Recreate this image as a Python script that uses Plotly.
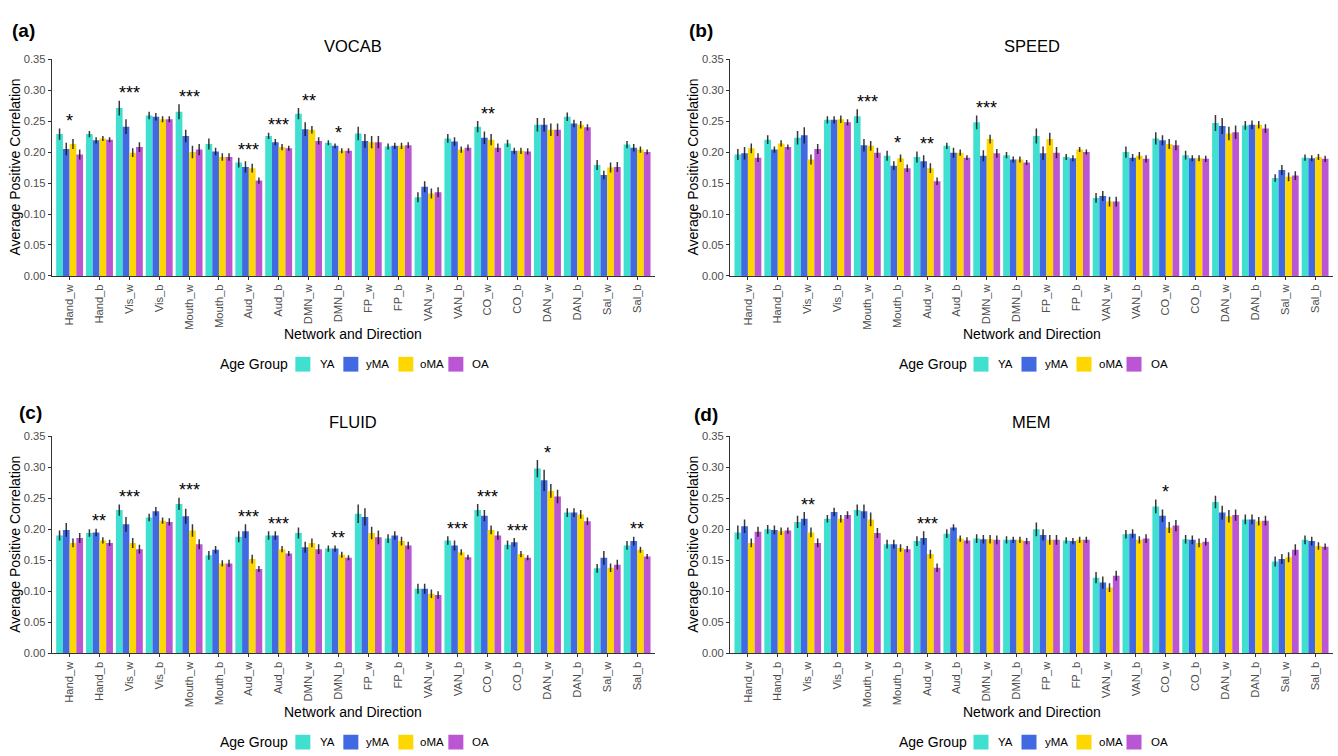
import plotly.graph_objects as go

# ---------------- data ----------------
categories = ["Hand_w", "Hand_b", "Vis_w", "Vis_b", "Mouth_w", "Mouth_b", "Aud_w", "Aud_b",
              "DMN_w", "DMN_b", "FP_w", "FP_b", "VAN_w", "VAN_b", "CO_w", "CO_b",
              "DAN_w", "DAN_b", "Sal_w", "Sal_b"]
groups = ["YA", "yMA", "oMA", "OA"]
panel_titles = ["VOCAB", "SPEED", "FLUID", "MEM"]
panel_tags = ["(a)", "(b)", "(c)", "(d)"]
y_ticks = [0.00, 0.05, 0.10, 0.15, 0.20, 0.25, 0.30, 0.35]

# VOCAB
vocab_YA = [0.229, 0.229, 0.271, 0.259, 0.265, 0.213, 0.183, 0.226, 0.262, 0.215, 0.230, 0.209, 0.127, 0.222, 0.241, 0.214, 0.244, 0.257, 0.179, 0.212]
vocab_yMA = [0.205, 0.219, 0.241, 0.257, 0.226, 0.201, 0.176, 0.216, 0.237, 0.210, 0.218, 0.210, 0.144, 0.217, 0.223, 0.202, 0.244, 0.246, 0.163, 0.207]
vocab_oMA = [0.213, 0.222, 0.199, 0.253, 0.200, 0.192, 0.174, 0.208, 0.236, 0.202, 0.216, 0.210, 0.133, 0.204, 0.220, 0.202, 0.236, 0.244, 0.175, 0.204]
vocab_OA = [0.196, 0.220, 0.208, 0.253, 0.204, 0.192, 0.154, 0.206, 0.218, 0.202, 0.216, 0.211, 0.135, 0.207, 0.207, 0.201, 0.236, 0.240, 0.176, 0.200]
vocab_YA_se = [0.009, 0.005, 0.012, 0.006, 0.012, 0.009, 0.008, 0.005, 0.009, 0.004, 0.011, 0.005, 0.008, 0.007, 0.009, 0.006, 0.011, 0.007, 0.008, 0.006]
vocab_yMA_se = [0.010, 0.005, 0.012, 0.006, 0.010, 0.006, 0.009, 0.005, 0.011, 0.004, 0.011, 0.005, 0.009, 0.007, 0.010, 0.005, 0.011, 0.006, 0.007, 0.006]
vocab_oMA_se = [0.008, 0.004, 0.007, 0.005, 0.010, 0.006, 0.007, 0.005, 0.006, 0.004, 0.010, 0.005, 0.008, 0.005, 0.009, 0.005, 0.010, 0.006, 0.008, 0.005]
vocab_OA_se = [0.008, 0.004, 0.008, 0.005, 0.009, 0.006, 0.005, 0.004, 0.006, 0.004, 0.010, 0.005, 0.008, 0.005, 0.007, 0.005, 0.010, 0.005, 0.008, 0.004]
vocab_sig = ["*", "", "***", "", "***", "", "***", "***", "**", "*", "", "", "", "", "**", "", "", "", "", ""]

# SPEED
speed_YA = [0.196, 0.220, 0.223, 0.252, 0.258, 0.194, 0.192, 0.210, 0.248, 0.195, 0.226, 0.192, 0.126, 0.200, 0.222, 0.195, 0.247, 0.243, 0.158, 0.191]
speed_yMA = [0.198, 0.204, 0.227, 0.252, 0.211, 0.178, 0.185, 0.199, 0.194, 0.188, 0.198, 0.190, 0.129, 0.191, 0.219, 0.190, 0.242, 0.244, 0.171, 0.190]
speed_oMA = [0.206, 0.214, 0.188, 0.253, 0.210, 0.190, 0.174, 0.199, 0.221, 0.188, 0.221, 0.204, 0.120, 0.194, 0.213, 0.190, 0.230, 0.244, 0.160, 0.192]
speed_OA = [0.191, 0.208, 0.205, 0.248, 0.199, 0.174, 0.153, 0.191, 0.198, 0.183, 0.199, 0.200, 0.120, 0.189, 0.211, 0.189, 0.232, 0.238, 0.162, 0.189]
speed_YA_se = [0.009, 0.007, 0.011, 0.006, 0.011, 0.008, 0.009, 0.005, 0.011, 0.005, 0.012, 0.005, 0.008, 0.009, 0.010, 0.007, 0.013, 0.007, 0.006, 0.005]
speed_yMA_se = [0.010, 0.005, 0.013, 0.006, 0.010, 0.007, 0.010, 0.008, 0.009, 0.005, 0.011, 0.005, 0.008, 0.006, 0.008, 0.005, 0.013, 0.007, 0.008, 0.005]
speed_oMA_se = [0.008, 0.005, 0.008, 0.006, 0.008, 0.006, 0.008, 0.005, 0.007, 0.005, 0.010, 0.004, 0.008, 0.006, 0.008, 0.005, 0.011, 0.006, 0.007, 0.005]
speed_OA_se = [0.007, 0.004, 0.008, 0.005, 0.008, 0.006, 0.006, 0.004, 0.007, 0.004, 0.009, 0.004, 0.008, 0.006, 0.008, 0.005, 0.011, 0.007, 0.007, 0.005]
speed_sig = ["", "", "", "", "***", "*", "**", "", "***", "", "", "", "", "", "", "", "", "", "", ""]

# FLUID
fluid_YA = [0.190, 0.194, 0.231, 0.219, 0.241, 0.158, 0.188, 0.190, 0.194, 0.169, 0.225, 0.185, 0.104, 0.182, 0.231, 0.175, 0.298, 0.227, 0.137, 0.174]
fluid_yMA = [0.199, 0.195, 0.208, 0.229, 0.221, 0.167, 0.197, 0.190, 0.171, 0.169, 0.220, 0.190, 0.104, 0.174, 0.222, 0.179, 0.279, 0.227, 0.154, 0.181]
fluid_oMA = [0.178, 0.182, 0.178, 0.214, 0.198, 0.145, 0.152, 0.168, 0.178, 0.159, 0.194, 0.181, 0.096, 0.163, 0.199, 0.160, 0.262, 0.224, 0.138, 0.167]
fluid_OA = [0.186, 0.178, 0.168, 0.212, 0.176, 0.145, 0.136, 0.161, 0.168, 0.154, 0.187, 0.174, 0.094, 0.155, 0.190, 0.154, 0.253, 0.213, 0.143, 0.156]
fluid_YA_se = [0.008, 0.006, 0.009, 0.006, 0.010, 0.007, 0.009, 0.007, 0.009, 0.005, 0.015, 0.007, 0.008, 0.007, 0.010, 0.007, 0.014, 0.007, 0.007, 0.007]
fluid_yMA_se = [0.011, 0.006, 0.012, 0.007, 0.012, 0.006, 0.011, 0.007, 0.009, 0.005, 0.014, 0.007, 0.008, 0.008, 0.009, 0.007, 0.017, 0.007, 0.011, 0.007]
fluid_oMA_se = [0.007, 0.005, 0.008, 0.005, 0.010, 0.005, 0.007, 0.005, 0.007, 0.005, 0.010, 0.007, 0.007, 0.005, 0.007, 0.005, 0.011, 0.007, 0.007, 0.005]
fluid_OA_se = [0.008, 0.005, 0.007, 0.006, 0.008, 0.006, 0.005, 0.004, 0.008, 0.004, 0.011, 0.006, 0.006, 0.004, 0.007, 0.004, 0.011, 0.006, 0.008, 0.004]
fluid_sig = ["", "**", "***", "", "***", "", "***", "***", "", "**", "", "", "", "***", "***", "***", "*", "", "", "**"]

# MEM
mem_YA = [0.195, 0.200, 0.212, 0.217, 0.231, 0.176, 0.181, 0.193, 0.185, 0.183, 0.200, 0.182, 0.122, 0.192, 0.237, 0.184, 0.244, 0.216, 0.148, 0.183]
mem_yMA = [0.205, 0.199, 0.217, 0.228, 0.229, 0.176, 0.186, 0.203, 0.184, 0.183, 0.191, 0.181, 0.114, 0.193, 0.222, 0.183, 0.227, 0.216, 0.152, 0.181]
mem_oMA = [0.178, 0.197, 0.195, 0.217, 0.216, 0.170, 0.160, 0.185, 0.184, 0.183, 0.183, 0.183, 0.106, 0.183, 0.203, 0.178, 0.221, 0.213, 0.155, 0.173]
mem_OA = [0.196, 0.198, 0.178, 0.223, 0.194, 0.168, 0.138, 0.182, 0.183, 0.181, 0.183, 0.183, 0.125, 0.185, 0.206, 0.180, 0.223, 0.214, 0.167, 0.172]
mem_YA_se = [0.011, 0.007, 0.010, 0.006, 0.009, 0.007, 0.008, 0.007, 0.007, 0.006, 0.011, 0.005, 0.009, 0.007, 0.011, 0.007, 0.010, 0.008, 0.008, 0.007]
mem_yMA_se = [0.011, 0.007, 0.011, 0.007, 0.011, 0.007, 0.011, 0.005, 0.007, 0.005, 0.009, 0.005, 0.010, 0.007, 0.010, 0.007, 0.011, 0.008, 0.008, 0.007]
mem_oMA_se = [0.007, 0.006, 0.008, 0.006, 0.011, 0.006, 0.007, 0.005, 0.007, 0.005, 0.008, 0.005, 0.007, 0.006, 0.009, 0.007, 0.010, 0.007, 0.008, 0.006]
mem_OA_se = [0.008, 0.005, 0.007, 0.006, 0.008, 0.005, 0.007, 0.005, 0.007, 0.005, 0.008, 0.005, 0.008, 0.007, 0.009, 0.006, 0.009, 0.008, 0.009, 0.005]
mem_sig = ["", "", "**", "", "", "", "***", "", "", "", "", "", "", "", "*", "", "", "", "", ""]

panel_means = [
    [vocab_YA, vocab_yMA, vocab_oMA, vocab_OA],
    [speed_YA, speed_yMA, speed_oMA, speed_OA],
    [fluid_YA, fluid_yMA, fluid_oMA, fluid_OA],
    [mem_YA, mem_yMA, mem_oMA, mem_OA],
]
panel_ses = [
    [vocab_YA_se, vocab_yMA_se, vocab_oMA_se, vocab_OA_se],
    [speed_YA_se, speed_yMA_se, speed_oMA_se, speed_OA_se],
    [fluid_YA_se, fluid_yMA_se, fluid_oMA_se, fluid_OA_se],
    [mem_YA_se, mem_yMA_se, mem_oMA_se, mem_OA_se],
]
panel_sigs = [vocab_sig, speed_sig, fluid_sig, mem_sig]

# ---------------- styling / layout ----------------
W, H = 1338, 756
FONT = "Liberation Sans, Arial, Helvetica, sans-serif"
COLORS = ["#40E0D0", "#4169E1", "#FFD700", "#BA55D3"]
AXIS_COL = "#333333"
TICK_TXT = "#4D4D4D"


def px(xp):
    return xp / W


def py(yp):
    return 1 - yp / H


# pixel boxes of the plot areas: (left, right, top, bottom)
boxes = [
    (51.7, 655.0, 54.0, 274.3),
    (730.0, 1333.0, 54.0, 274.3),
    (51.7, 655.0, 437.3, 657.7),
    (730.0, 1333.0, 437.3, 657.7),
]
tag_pos = [(10, 25), (687, 25), (17, 413), (692, 415)]
ytitle_x = [15, 693, 15, 693]
title_y = [41, 41, 423, 423]
xtitle_y = [333, 333, 717, 717]
legend_y = [364, 364, 748, 748]

fig = go.Figure()
annotations = []
shapes = []

for p in range(4):
    sfx = "" if p == 0 else str(p + 1)
    xa, ya = "x" + sfx, "y" + sfx
    for g in range(4):
        fig.add_trace(go.Bar(
            x=categories, y=panel_means[p][g], name=groups[g],
            marker=dict(color=COLORS[g], line=dict(width=0)),
            error_y=dict(type="data", array=panel_ses[p][g], visible=True,
                         width=0, thickness=1.5, color="rgba(20,20,20,0.85)"),
            xaxis=xa, yaxis=ya, showlegend=False,
        ))
    # significance stars
    for i, s in enumerate(panel_sigs[p]):
        if s:
            top = max(panel_means[p][g][i] + panel_ses[p][g][i] for g in range(4))
            annotations.append(dict(
                x=categories[i], y=top + 0.02, xref=xa, yref=ya, text=s,
                showarrow=False, yanchor="middle", yshift=-5,
                font=dict(family=FONT, size=18, color="black")))

    l, r, t, b = boxes[p]
    cx = (l + r) / 2
    fig.layout["xaxis" + sfx] = dict(
        domain=[px(l), px(r)], anchor=ya, type="category", range=[-0.6, 19.6],
        showline=True, linecolor=AXIS_COL, linewidth=1, ticks="outside", ticklen=3,
        tickcolor=AXIS_COL, tickangle=-90, showgrid=False, zeroline=False,
        tickfont=dict(family=FONT, size=11.2, color=TICK_TXT), fixedrange=True)
    fig.layout["yaxis" + sfx] = dict(
        domain=[py(b), py(t)], anchor=xa, range=[0, 0.35],
        tickvals=y_ticks, ticktext=["%.2f" % v for v in y_ticks],
        showline=True, linecolor=AXIS_COL, linewidth=1, ticks="outside", ticklen=3,
        tickcolor=AXIS_COL, showgrid=False, zeroline=False,
        tickfont=dict(family=FONT, size=11.2, color=TICK_TXT), fixedrange=True)

    # panel title
    annotations.append(dict(x=px(cx), y=py(title_y[p]), xref="paper", yref="paper",
                            text=panel_titles[p], showarrow=False, xanchor="center",
                            yanchor="middle", font=dict(family=FONT, size=16.5, color="black")))
    # tag
    annotations.append(dict(x=px(tag_pos[p][0]), y=py(tag_pos[p][1]), xref="paper", yref="paper",
                            text="<b>" + panel_tags[p] + "</b>", showarrow=False, xanchor="left",
                            yanchor="middle", font=dict(family=FONT, size=19, color="black")))
    # y title
    annotations.append(dict(x=px(ytitle_x[p]), y=py((t + b) / 2), xref="paper", yref="paper",
                            text="Average Positive Correlation", textangle=-90, showarrow=False,
                            xanchor="center", yanchor="middle",
                            font=dict(family=FONT, size=14, color="black")))
    # x title
    annotations.append(dict(x=px(cx), y=py(xtitle_y[p]), xref="paper", yref="paper",
                            text="Network and Direction", showarrow=False, xanchor="center",
                            yanchor="middle", font=dict(family=FONT, size=14, color="black")))
    # legend (drawn manually, ggplot-style)
    ly = legend_y[p]
    annotations.append(dict(x=px(cx - 135), y=py(ly), xref="paper", yref="paper",
                            text="Age Group", showarrow=False, xanchor="left", yanchor="middle",
                            font=dict(family=FONT, size=14, color="black")))
    sw_off = [-58, -10, 45, 95]
    tx_off = [-35, 11, 65, 117]
    for g in range(4):
        x0 = cx + sw_off[g]
        shapes.append(dict(type="rect", xref="paper", yref="paper",
                           x0=px(x0), x1=px(x0 + 15), y0=py(ly + 7.5), y1=py(ly - 7.5),
                           fillcolor=COLORS[g], line=dict(width=0)))
        annotations.append(dict(x=px(cx + tx_off[g]), y=py(ly), xref="paper", yref="paper",
                                text=groups[g], showarrow=False, xanchor="left", yanchor="middle",
                                font=dict(family=FONT, size=11.5, color="black")))

fig.update_layout(
    width=W, height=H, autosize=False,
    margin=dict(l=0, r=0, t=0, b=0),
    paper_bgcolor="white", plot_bgcolor="white",
    barmode="group", bargap=0.1, bargroupgap=0,
    annotations=annotations, shapes=shapes,
    font=dict(family=FONT),
)

fig.write_html("out.html",
               config={"displayModeBar": False},
               post_script="document.body.style.margin='0px';"
                           "document.body.style.overflow='hidden';")
